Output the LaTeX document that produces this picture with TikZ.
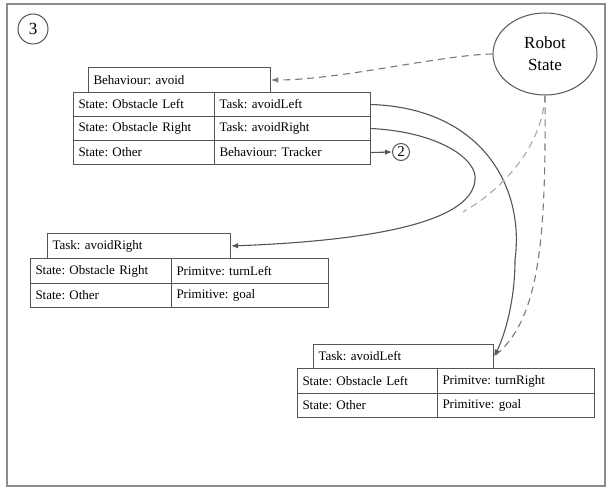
\documentclass[tikz,border=0pt]{standalone}
\usepackage{fontspec}
\setmainfont{Liberation Serif}
\newfontfamily\diagfont{Liberation Serif}
\usetikzlibrary{arrows.meta,shapes.geometric}
\definecolor{linegray}{HTML}{555555}
\definecolor{framegray}{HTML}{8C8C8C}
\definecolor{dashgray}{HTML}{7A7A7A}
\definecolor{lightdash}{HTML}{A8A8A8}
\frenchspacing
\begin{document}
\begin{tikzpicture}[x=1bp,y=-1bp,
  every node/.style={font=\diagfont},
  cell/.style={draw=linegray, line width=1bp, rectangle, anchor=north west,
    inner xsep=5bp, inner ysep=0pt, align=left,
    font=\diagfont\fontsize{13bp}{15bp}\selectfont},
  c141/.style={cell, text width=131bp},
  c140/.style={cell, text width=130bp},
  c156/.style={cell, text width=146bp},
  c157/.style={cell, text width=147bp},
  h24/.style={minimum height=24bp},
  h25/.style={minimum height=25bp},
  tip/.style={-{Latex[length=7bp,width=5.5bp]}},
  solidconn/.style={draw=linegray, line width=1.1bp},
  dashconn/.style={draw=dashgray, line width=1.1bp, dash pattern=on 7bp off 5bp},
  lightconn/.style={draw=lightdash, line width=1.1bp, dash pattern=on 7bp off 5bp},
  numcirc/.style={draw=linegray, line width=1bp, circle, inner sep=0pt}
]
\useasboundingbox (0,0) rectangle (609,490);
\fill[white] (0,0) rectangle (609,490);
\draw[framegray, line width=2bp] (7,4) rectangle (605,486);

% section number and external state
\node[numcirc, minimum size=30bp, font=\diagfont\fontsize{17bp}{17bp}\selectfont] (n3) at (33,29) {3};
\node[draw=linegray, line width=1bp, ellipse, minimum width=104bp, minimum height=82bp,
      align=center, font=\diagfont\fontsize{17bp}{22bp}\selectfont] (rs) at (545,54) {Robot\\State};

% behaviour table: avoid
\node[cell, text width=172bp, h25] (bhead) at (88,67) {Behaviour: avoid};
\node[c141, h24] (b1a) at (73,92) {State: Obstacle Left};
\node[c156, h24] (b1b) at (214,92) {Task: avoidLeft};
\node[c141, h24] (b2a) at (73,116) {State: Obstacle Right};
\node[c156, h24] (b2b) at (214,116) {Task: avoidRight};
\node[c141, h24] (b3a) at (73,140) {State: Other};
\node[c156, h24] (b3b) at (214,140) {Behaviour: Tracker};
\node[numcirc, minimum size=17bp, font=\diagfont\fontsize{15bp}{15bp}\selectfont] (n2) at (401,152) {2};

% task table: avoidRight
\node[cell, text width=173bp, h25] (rhead) at (47,233) {Task: avoidRight};
\node[c141, h25] (r1a) at (30,258) {State: Obstacle Right};
\node[c157, h25] (r1b) at (171,258) {Primitve: turnLeft};
\node[c141, h24] (r2a) at (30,283) {State: Other};
\node[c157, h24] (r2b) at (171,283) {Primitive: goal};

% task table: avoidLeft
\node[cell, text width=170bp, h24] (lhead) at (313,344) {Task: avoidLeft};
\node[c140, h25] (l1a) at (297,368) {State: Obstacle Left};
\node[c157, h25] (l1b) at (437,368) {Primitve: turnRight};
\node[c140, h24] (l2a) at (297,393) {State: Other};
\node[c157, h24] (l2b) at (437,393) {Primitive: goal};

% connectors
\draw[solidconn, tip] (b3b.east) -- (n2.west);
\draw[dashconn, tip] (rs.west) .. controls (440,55) and (340,80) .. (bhead.east);
\draw[solidconn, tip] (b1b.east) .. controls (480,108) and (525,185) .. (515,260)
  .. controls (515,300) and (505,335) .. (lhead.east);
\draw[solidconn, tip] (b2b.east) .. controls (440,132) and (478,160) .. (475,180)
  .. controls (472,218) and (390,240) .. (rhead.east);
\coordinate (merge) at (463,212);
\draw[lightconn] (rs.south) .. controls (543,140) and (510,185) .. (merge);
\draw[dashconn] (rs.south) .. controls (546,240) and (540,320) .. (lhead.east);
\end{tikzpicture}
\end{document}
